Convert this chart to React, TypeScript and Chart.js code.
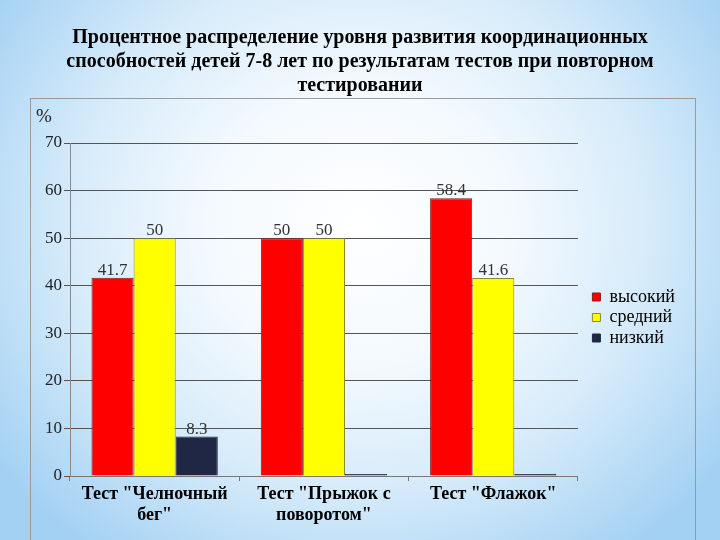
import React, { useEffect, useRef } from 'react';
import { Chart, registerables } from 'chart.js';

Chart.register(...registerables);

const titleLines = [
  'Процентное распределение уровня развития координационных',
  'способностей детей 7-8 лет по результатам тестов при повторном',
  'тестировании',
];
const categories = [
  ['Тест "Челночный', 'бег"'],
  ['Тест "Прыжок с', 'поворотом"'],
  ['Тест "Флажок"'],
];
const seriesNames = ['высокий', 'средний', 'низкий'];
const highValues = [41.7, 50, 58.4];
const midValues = [50, 50, 41.6];
const lowValues = [8.3, 0, 0];
const yMin = 0;
const yMax = 70;
const yStep = 10;
const unitLabel = '%';

const SERIF = '"Liberation Serif", "Times New Roman", serif';

const barLabelPlugin = {
  id: 'barLabels',
  afterDatasetsDraw(chart: any) {
    const ctx = chart.ctx;
    chart.data.datasets.forEach((ds: any, i: number) => {
      const meta = chart.getDatasetMeta(i);
      meta.data.forEach((bar: any, j: number) => {
        const v = ds.data[j];
        if (!v) return;
        ctx.save();
        ctx.font = '17px ' + SERIF;
        ctx.fillStyle = '#333333';
        ctx.textAlign = 'center';
        ctx.textBaseline = 'alphabetic';
        ctx.fillText(String(v), bar.x, bar.y - 3);
        ctx.restore();
      });
    });
  },
};

// nudges the legend block away from the plot area, and centres the title on the whole canvas
const layoutTweakPlugin = {
  id: 'layoutTweak',
  afterLayout(chart: any) {
    const L = chart.legend;
    if (L) {
      const dx = 12;
      const dy = 8;
      L.left += dx;
      L.right += dx;
      L.top += dy;
      L.bottom += dy;
    }
    const T = chart.titleBlock;
    if (T) {
      T.left = 0;
      T.right = chart.width;
    }
  },
};

export default function App() {
  const canvasRef = useRef<HTMLCanvasElement | null>(null);

  useEffect(() => {
    if (!canvasRef.current) return;
    const chart = new Chart(canvasRef.current, {
      type: 'bar',
      data: {
        labels: categories as any,
        datasets: [
          {
            label: seriesNames[0],
            data: highValues,
            backgroundColor: '#ff0000',
            borderColor: '#8b1a1a',
            borderWidth: 1,
          },
          {
            label: seriesNames[1],
            data: midValues,
            backgroundColor: '#ffff00',
            borderColor: '#8a8a30',
            borderWidth: 1,
          },
          {
            label: seriesNames[2],
            data: lowValues,
            backgroundColor: '#1f2744',
            borderColor: '#1f2744',
            borderWidth: 1,
            minBarLength: 2,
          },
        ],
      },
      options: {
        responsive: false,
        animation: false,
        datasets: {
          bar: {
            barPercentage: 1,
            categoryPercentage: 0.746,
          },
        },
        layout: {
          padding: { left: 0, right: 47, top: 0, bottom: 0 },
        },
        plugins: {
          title: {
            display: true,
            text: titleLines,
            color: '#000000',
            font: { family: SERIF, size: 20, weight: 'bold', lineHeight: 1.2 },
            padding: { top: 26, bottom: 45 },
          },
          legend: {
            display: true,
            position: 'right',
            align: 'center',
            fullSize: false,
            labels: {
              boxWidth: 8,
              boxHeight: 8,
              padding: 2.5,
              color: '#000000',
              font: { family: SERIF, size: 18 },
            },
          },
          tooltip: { enabled: false },
        },
        scales: {
          x: {
            grid: {
              display: true,
              drawOnChartArea: false,
              drawTicks: true,
              tickLength: 5,
              color: '#777777',
              offset: true,
            },
            border: { display: true, color: '#777777', width: 1 },
            ticks: {
              color: '#000000',
              padding: 3,
              font: { family: SERIF, size: 18, weight: 'bold', lineHeight: 1.17 },
              maxRotation: 0,
              autoSkip: false,
            },
            afterFit(scale: any) {
              scale.height = 64;
            },
          },
          y: {
            min: yMin,
            max: yMax,
            ticks: {
              stepSize: yStep,
              color: '#222222',
              padding: 2,
              font: { family: SERIF, size: 17 },
            },
            grid: {
              color: '#555555',
              lineWidth: 1,
              drawTicks: true,
              tickLength: 6,
            },
            border: { display: true, color: '#888888', width: 1 },
            afterFit(scale: any) {
              scale.width = 70;
            },
          },
        },
      },
      plugins: [barLabelPlugin, layoutTweakPlugin],
    } as any);
    return () => chart.destroy();
  }, []);

  return (
    <div
      style={{
        position: 'fixed',
        left: 0,
        top: 0,
        width: 720,
        height: 540,
        overflow: 'hidden',
        background:
          'radial-gradient(ellipse 62% 75% at 50% 42%, #ffffff 0%, #f3f9fe 35%, #d6ebfa 65%, #a3d1f3 100%)',
      }}
    >
      <div
        style={{
          position: 'absolute',
          left: 30,
          top: 98,
          width: 666,
          height: 460,
          border: '1px solid #9a9a9a',
          boxSizing: 'border-box',
        }}
      />
      <div
        style={{
          position: 'absolute',
          left: 36,
          top: 105,
          fontFamily: SERIF,
          fontSize: 19,
          lineHeight: '22px',
          color: '#222222',
        }}
      >
        {unitLabel}
      </div>
      <canvas
        ref={canvasRef}
        width={720}
        height={540}
        style={{ position: 'absolute', left: 0, top: 0, width: 720, height: 540 }}
      />
    </div>
  );
}
